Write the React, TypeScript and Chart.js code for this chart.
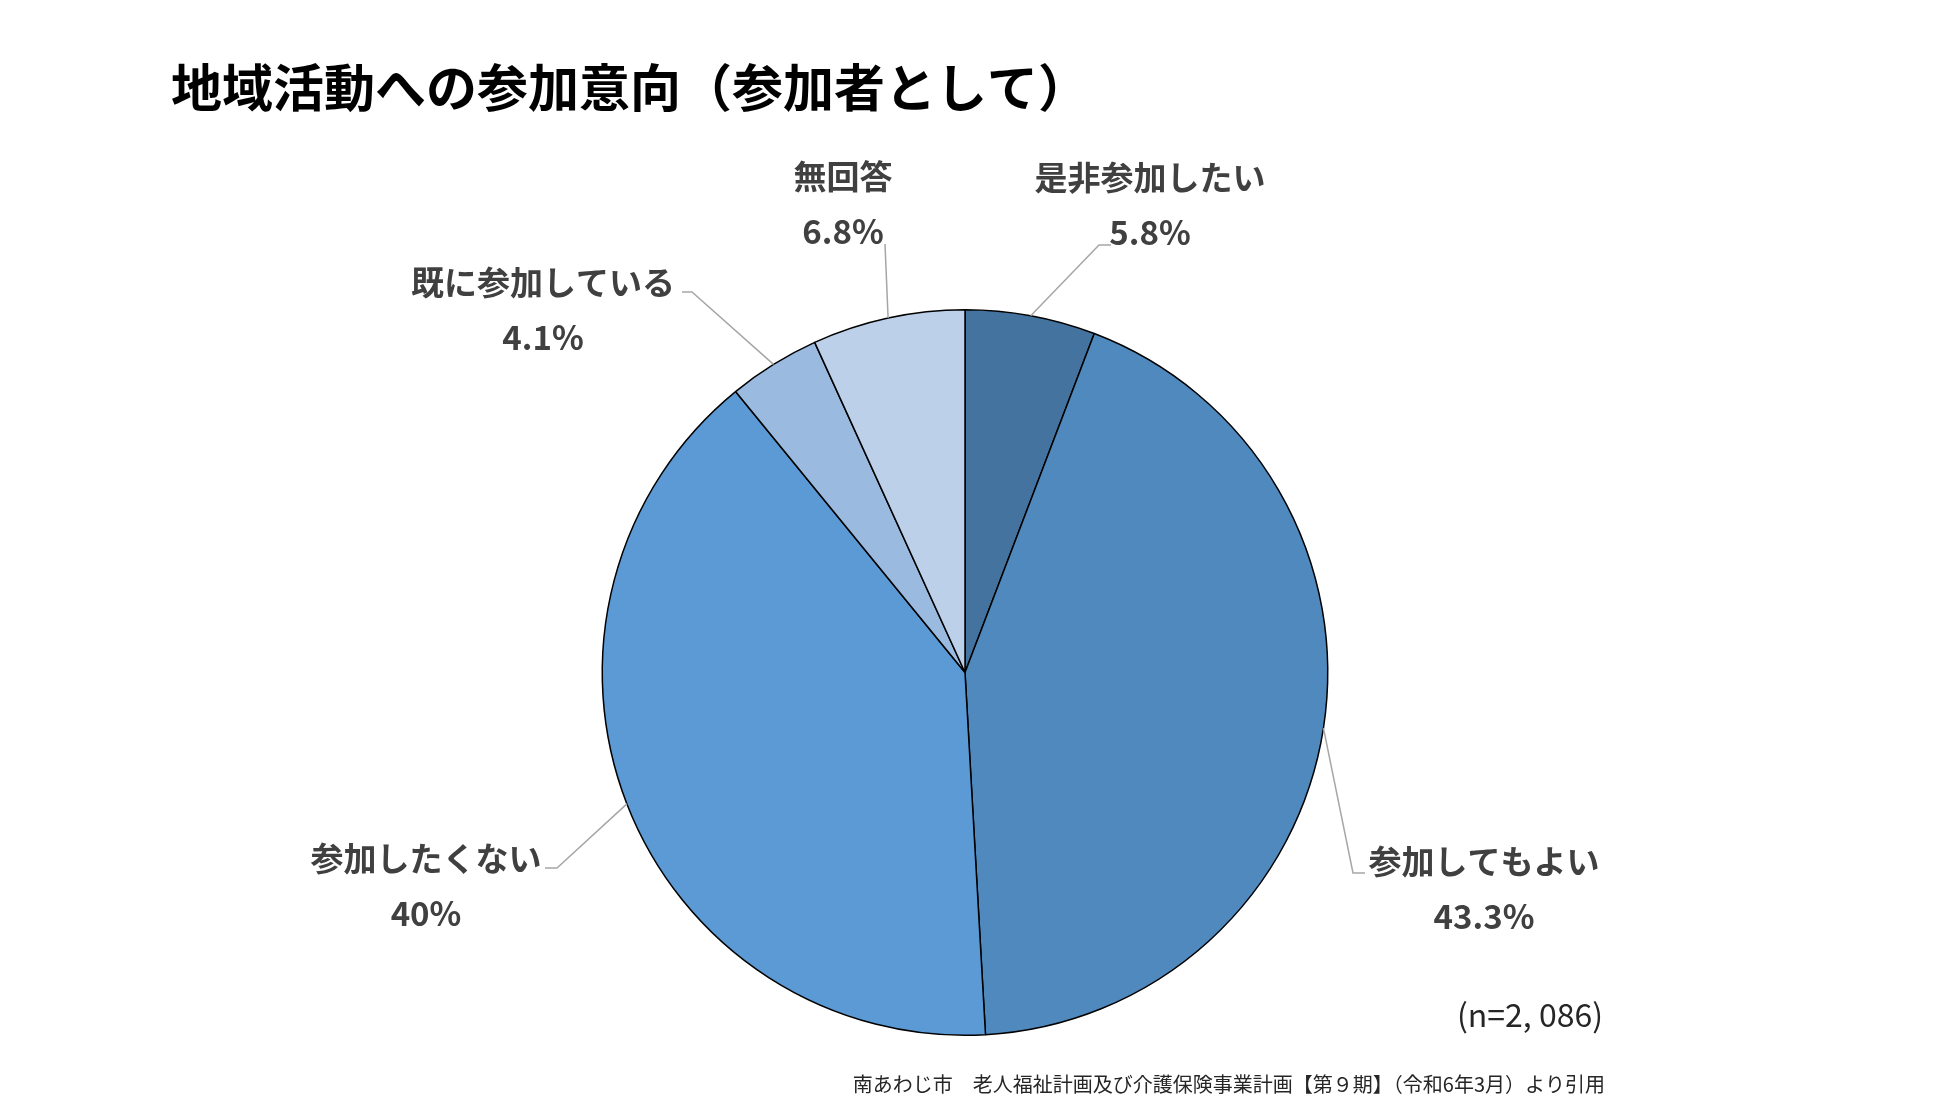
import { Chart, registerables } from "chart.js"
import { useEffect, useRef } from "react"

const categories = ["是非参加したい", "参加してもよい", "参加したくない", "既に参加している", "無回答"]
const shares = [5.8, 43.3, 40, 4.1, 6.8]
const shareLabels = ["5.8%", "43.3%", "40%", "4.1%", "6.8%"]
const sliceColors = ["#44739F", "#4F89BD", "#5B9AD5", "#9ABADF", "#BDD0E9"]

const titleText = "地域活動への参加意向（参加者として）"
const sampleText = "(n=2, 086)"
const sourceText = "南あわじ市　老人福祉計画及び介護保険事業計画【第９期】（令和6年3月）より引用"

// label centre (name line), leader elbow, leader end
const labelLayout = [
  { x: 1150, y: 177, ex: 1099, ey: 245, tx: 1111, ty: 245 },
  { x: 1484, y: 861, ex: 1353, ey: 873, tx: 1365, ty: 873 },
  { x: 426, y: 858, ex: 557, ey: 868, tx: 545, ty: 868 },
  { x: 543, y: 282, ex: 692, ey: 292, tx: 682, ty: 292 },
  { x: 843, y: 176, ex: 885, ey: 244, tx: 885, ty: 244 },
]

const FONT = '"Noto Sans CJK JP", "Noto Sans", sans-serif'

const labelPlugin = {
  id: "pieLabels",
  afterDraw(chart: any) {
    const ctx = chart.ctx
    const meta = chart.getDatasetMeta(0)
    ctx.save()

    // leader lines
    ctx.strokeStyle = "#A6A6A6"
    ctx.lineWidth = 1.5
    meta.data.forEach((arc: any, i: number) => {
      const p = arc.getProps(["x", "y", "startAngle", "endAngle", "outerRadius"], true)
      const a = (p.startAngle + p.endAngle) / 2
      const sx = p.x + Math.cos(a) * p.outerRadius
      const sy = p.y + Math.sin(a) * p.outerRadius
      const l = labelLayout[i]
      ctx.beginPath()
      ctx.moveTo(sx, sy)
      ctx.lineTo(l.ex, l.ey)
      ctx.lineTo(l.tx, l.ty)
      ctx.stroke()
    })

    // data labels
    ctx.fillStyle = "#404040"
    ctx.textAlign = "center"
    ctx.textBaseline = "middle"
    ctx.font = `bold 33px ${FONT}`
    categories.forEach((c, i) => {
      const l = labelLayout[i]
      ctx.fillText(c, l.x, l.y)
      ctx.fillText(shareLabels[i], l.x, l.y + 55)
    })

    // title
    ctx.fillStyle = "#000000"
    ctx.textAlign = "left"
    ctx.font = `bold 51px ${FONT}`
    ctx.fillText(titleText, 171, 88)

    // sample size
    ctx.fillStyle = "#262626"
    ctx.textAlign = "right"
    ctx.font = `32px ${FONT}`
    ctx.fillText(sampleText, 1603, 1015)

    // source
    ctx.font = `20px ${FONT}`
    ctx.fillText(sourceText, 1605, 1084)

    ctx.restore()
  },
}

const App = () => {
  const chartRef = useRef<HTMLCanvasElement>(null)

  useEffect(() => {
    document.body.style.margin = "0"
    Chart.register(...registerables)
    if (!chartRef.current) return
    const ctx = chartRef.current.getContext("2d")
    if (!ctx) return

    const c = new Chart(ctx, {
      type: "pie",
      data: {
        labels: categories,
        datasets: [{
          data: shares,
          backgroundColor: sliceColors,
          borderColor: "#000000",
          borderWidth: 1.5,
        }],
      },
      options: {
        animation: false,
        responsive: false,
        layout: { padding: { top: 309, bottom: 62, left: 395, right: 415 } },
        plugins: {
          legend: { display: false },
          tooltip: { enabled: false },
        },
      },
      plugins: [labelPlugin],
    })
    return () => {
      c.destroy()
    }
  }, [])

  return (
    <div style={{ position: "absolute", left: 0, top: 0, width: 1950, height: 1098, background: "#ffffff" }}>
      <canvas ref={chartRef} width={1950} height={1098}></canvas>
    </div>
  )
}

export default App
